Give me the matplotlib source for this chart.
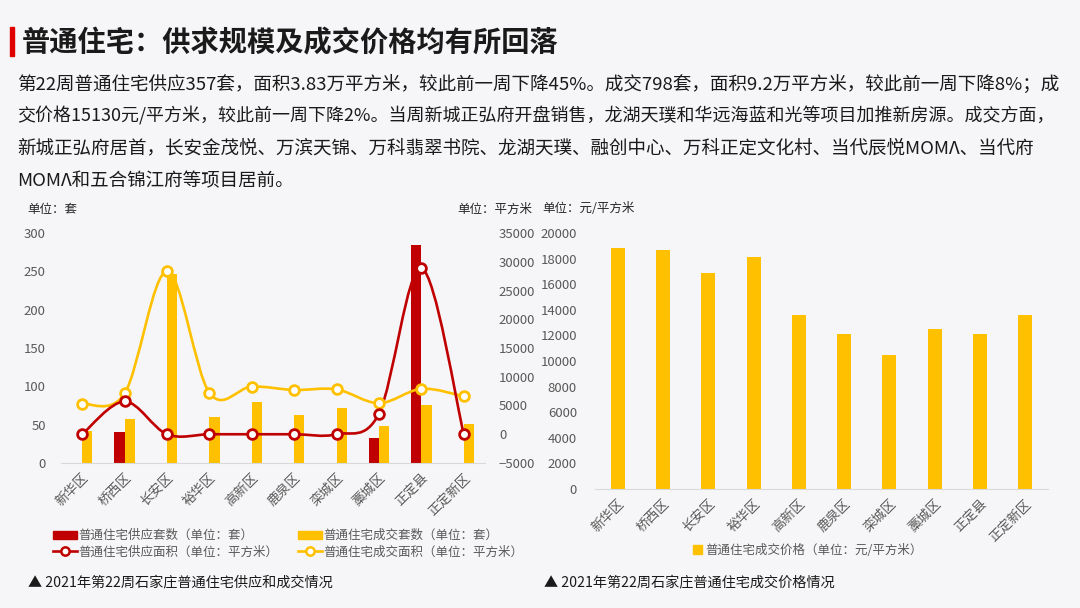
import matplotlib
matplotlib.use("Agg")
import matplotlib.pyplot as plt
from matplotlib.path import Path
from matplotlib.patches import PathPatch, Patch
from matplotlib.lines import Line2D
import numpy as np

plt.rcParams['font.family'] = ['Noto Sans CJK SC', 'DejaVu Sans']

# ---------------- data ----------------
districts = ["新华区", "桥西区", "长安区", "裕华区", "高新区", "鹿泉区", "栾城区", "藁城区", "正定县", "正定新区"]
supply_units = [0, 40, 0, 0, 0, 0, 0, 33, 284, 0]
deal_units = [42, 58, 247, 60, 79, 63, 72, 48, 76, 51]
supply_area = [0, 5700, 0, 0, 0, 0, 0, 3600, 28900, 0]
deal_area = [5300, 7100, 28350, 7200, 8300, 7700, 7800, 5400, 7900, 6600]
deal_price = [18800, 18700, 16900, 18100, 13600, 12100, 10500, 12500, 12100, 13600]

left_ticks = [0, 50, 100, 150, 200, 250, 300]
right_ticks = [-5000, 0, 5000, 10000, 15000, 20000, 25000, 30000, 35000]
price_ticks = list(range(0, 20001, 2000))

title = "普通住宅：供求规模及成交价格均有所回落"
body_lines = [
    "第22周普通住宅供应357套，面积3.83万平方米，较此前一周下降45%。成交798套，面积9.2万平方米，较此前一周下降8%；成",
    "交价格15130元/平方米，较此前一周下降2%。当周新城正弘府开盘销售，龙湖天璞和华远海蓝和光等项目加推新房源。成交方面，",
    "新城正弘府居首，长安金茂悦、万滨天锦、万科翡翠书院、龙湖天璞、融创中心、万科正定文化村、当代辰悦MOMΛ、当代府",
    "MOMΛ和五合锦江府等项目居前。",
]
body_sizes = [13.35, 12.95, 13.35, 13.35]
legend_labels = ["普通住宅供应套数（单位：套）", "普通住宅供应面积（单位：平方米）",
                 "普通住宅成交套数（单位：套）", "普通住宅成交面积（单位：平方米）"]
price_label = "普通住宅成交价格（单位：元/平方米）"
cap_left = "▲ 2021年第22周石家庄普通住宅供应和成交情况"
cap_right = "▲ 2021年第22周石家庄普通住宅成交价格情况"

RED = "#C00000"
YEL = "#FFC000"
TXT = "#595959"
AX = "#D9D9D9"

W, H = 1080, 608
fig = plt.figure(figsize=(W / 100, H / 100), dpi=100, facecolor="#F6F6F8")


def fx(px):
    return px / W


def fy(py):
    return 1 - py / H


def smooth_path(xs, ys):
    xs = list(map(float, xs)); ys = list(map(float, ys))
    n = len(xs)
    verts = [(xs[0], ys[0])]
    codes = [Path.MOVETO]
    for i in range(n - 1):
        a = i - 1 if i > 0 else i
        d = i + 2 if i + 2 < n else i + 1
        c1 = (xs[i] + (xs[i + 1] - xs[a]) / 6, ys[i] + (ys[i + 1] - ys[a]) / 6)
        c2 = (xs[i + 1] - (xs[d] - xs[i]) / 6, ys[i + 1] - (ys[d] - ys[i]) / 6)
        verts += [c1, c2, (xs[i + 1], ys[i + 1])]
        codes += [Path.CURVE4] * 3
    return Path(verts, codes)


# ---------------- header ----------------
fig.patches.append(plt.Rectangle((fx(10), fy(56)), fx(4), 29 / H, transform=fig.transFigure,
                                 color="#E00000", zorder=5))
fig.text(fx(22), fy(43), title, fontsize=20.3, fontweight="bold", color="#1A1A1A", va="center", ha="left")
for i, line in enumerate(body_lines):
    fig.text(fx(17), fy(84 + i * 32.3), line, fontsize=body_sizes[i], color="#1A1A1A", va="center", ha="left")

# ---------------- left chart ----------------
x = np.arange(len(districts))
ax = fig.add_axes([fx(61), fy(463), fx(485) - fx(61), (463 - 233) / H])
ax.set_facecolor("none")
bw = 0.24
ax.bar(x - bw / 2, supply_units, bw, color=RED, zorder=2)
ax.bar(x + bw / 2, deal_units, bw, color=YEL, zorder=2)
ax.set_xlim(-0.5, len(districts) - 0.5)
ax.set_ylim(0, 300)
ax.set_yticks(left_ticks)
ax.set_xticks(x)
ax.set_xticklabels(districts, rotation=45, ha="right", va="top", rotation_mode="anchor")
ax.tick_params(length=0, colors=TXT, labelsize=9.5)
ax.tick_params(axis="y", pad=11)
ax.tick_params(axis="x", pad=6)
for s in ["top", "left", "right"]:
    ax.spines[s].set_visible(False)
ax.spines["bottom"].set_color(AX)

ax2 = ax.twinx()
ax2.set_ylim(-5000, 35000)
ax2.set_yticks(right_ticks)
ax2.tick_params(length=0, colors=TXT, labelsize=9.5, pad=10)
for s in ["top", "left", "right", "bottom"]:
    ax2.spines[s].set_visible(False)
for vals, col in [(deal_area, YEL), (supply_area, RED)]:
    ax2.add_patch(PathPatch(smooth_path(x, vals), fill=False, edgecolor=col, lw=1.9, zorder=3))
    ax2.plot(x, vals, ls="none", marker="o", ms=7, mfc="white", mec=col, mew=2, zorder=4)

fig.text(fx(27), fy(209), "单位：套", fontsize=9, color="#262626", va="center", ha="left")
fig.text(fx(457), fy(209), "单位：平方米", fontsize=9, color="#262626", va="center", ha="left")

handles = [
    Patch(color=RED),
    Line2D([], [], color=RED, lw=1.9, marker="o", ms=6, mfc="white", mec=RED, mew=1.8),
    Patch(color=YEL),
    Line2D([], [], color=YEL, lw=1.9, marker="o", ms=6, mfc="white", mec=YEL, mew=1.8),
]
fig.legend(handles, legend_labels, ncol=2, loc="upper left", bbox_to_anchor=(fx(47), fy(523)),
           frameon=False, fontsize=9, labelcolor=TXT, handlelength=1.9, handleheight=0.55,
           handletextpad=0.1, columnspacing=1.6, labelspacing=0.25, borderpad=0)

fig.text(fx(28), fy(582), cap_left, fontsize=10.2, color="#1A1A1A", va="center", ha="left")

# ---------------- right chart ----------------
bx = fig.add_axes([fx(595), fy(489), fx(1048) - fx(595), (489 - 233) / H])
bx.set_facecolor("none")
bx.bar(x, deal_price, 0.31, color=YEL, zorder=2)
bx.set_xlim(-0.5, len(districts) - 0.5)
bx.set_ylim(0, 20000)
bx.set_yticks(price_ticks)
bx.set_xticks(x)
bx.set_xticklabels(districts, rotation=45, ha="right", va="top", rotation_mode="anchor")
bx.tick_params(length=0, colors=TXT, labelsize=9.5)
bx.tick_params(axis="y", pad=13)
bx.tick_params(axis="x", pad=6)
for s in ["top", "left", "right"]:
    bx.spines[s].set_visible(False)
bx.spines["bottom"].set_color(AX)

fig.text(fx(542), fy(209), "单位：元/平方米", fontsize=9, color="#262626", va="center", ha="left")
fig.legend([Patch(color=YEL)], [price_label], loc="center left", bbox_to_anchor=(fx(687), fy(550)),
           frameon=False, fontsize=9, labelcolor=TXT, handlelength=0.7, handleheight=0.7,
           handletextpad=0.3, borderpad=0)
fig.text(fx(544), fy(582), cap_right, fontsize=10.2, color="#1A1A1A", va="center", ha="left")

fig.savefig("out.png", dpi=100, facecolor=fig.get_facecolor())
